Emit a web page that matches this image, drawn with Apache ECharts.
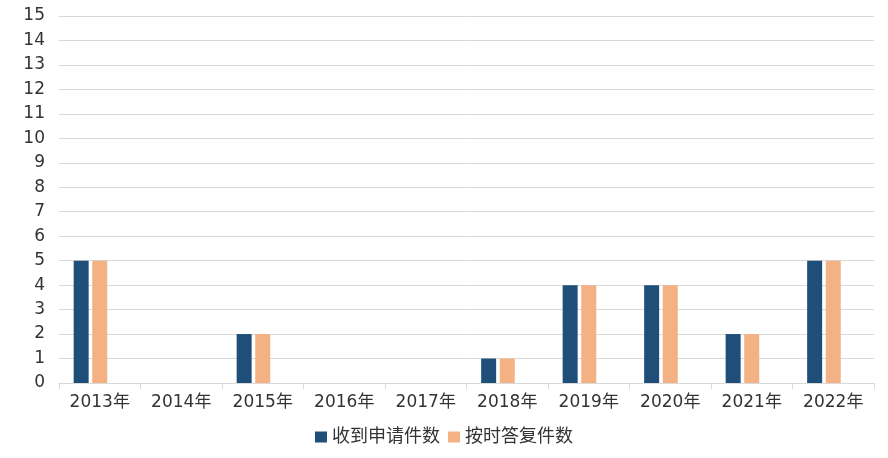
<!DOCTYPE html>
<html>
<head>
<meta charset="utf-8">
<script src="https://cdn.jsdelivr.net/npm/echarts@6/dist/echarts.min.js"></script>
<style>
  html, body { margin: 0; padding: 0; background: #fff; }
  #chart { width: 888px; height: 458px; }
</style>
</head>
<body>
<div id="chart"></div>
<script>
// data
const years = ["2013年", "2014年", "2015年", "2016年", "2017年", "2018年", "2019年", "2020年", "2021年", "2022年"];
const received = [5, 0, 2, 0, 0, 1, 4, 4, 2, 5];
const answered = [5, 0, 2, 0, 0, 1, 4, 4, 2, 5];
// third slot in each group is empty in the original
const blank = [null, null, null, null, null, null, null, null, null, null];

const chart = echarts.init(document.getElementById("chart"));
const font = "'DejaVu Sans', 'Noto Sans CJK SC', sans-serif";

chart.setOption({
  animation: false,
  grid: {
    left: 59,
    right: 14,
    top: 16,
    bottom: 75
  },
  legend: {
    data: ["收到申请件数", "按时答复件数"],
    bottom: 7,
    itemWidth: 12,
    itemHeight: 11,
    itemGap: 8,
    icon: "rect",
    textStyle: { fontFamily: font, fontSize: 18, color: "#333" }
  },
  xAxis: {
    type: "category",
    data: years,
    axisLine: { lineStyle: { color: "#d9d9d9", width: 1 } },
    axisTick: { show: true, length: 6, lineStyle: { color: "#d9d9d9" } },
    axisLabel: { fontFamily: font, fontSize: 17, color: "#333", margin: 11 }
  },
  yAxis: {
    type: "value",
    min: 0,
    max: 15,
    interval: 1,
    axisLine: { show: false },
    axisTick: { show: false },
    axisLabel: { fontFamily: font, fontSize: 17, color: "#333", margin: 14 },
    splitLine: { lineStyle: { color: "#d9d9d9", width: 1 } }
  },
  series: [
    {
      name: "收到申请件数",
      type: "bar",
      data: received,
      barWidth: 15,
      barGap: "24%",
      itemStyle: { color: "#1f4e79" }
    },
    {
      name: "按时答复件数",
      type: "bar",
      data: answered,
      barWidth: 15,
      barGap: "24%",
      itemStyle: { color: "#f4b183" }
    },
    {
      name: "blank",
      type: "bar",
      data: blank,
      barWidth: 15,
      barGap: "24%"
    }
  ]
});
</script>
</body>
</html>
